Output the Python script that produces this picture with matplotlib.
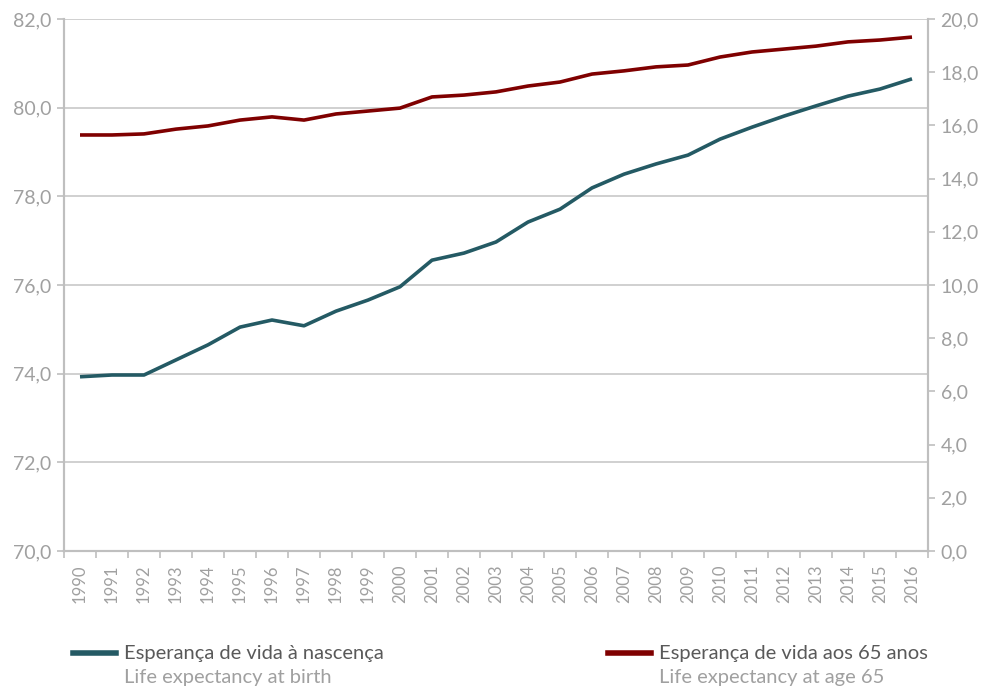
import matplotlib
matplotlib.use("Agg")
import matplotlib.pyplot as plt
from matplotlib.lines import Line2D

years = list(range(1990, 2017))
birth = [73.93, 73.97, 73.97, 74.31, 74.65, 75.05, 75.21, 75.08, 75.41, 75.66,
         75.96, 76.56, 76.72, 76.97, 77.42, 77.71, 78.19, 78.50, 78.73, 78.93,
         79.29, 79.56, 79.81, 80.04, 80.26, 80.42, 80.65]
age65 = [15.64, 15.64, 15.68, 15.86, 15.98, 16.20, 16.32, 16.20, 16.43, 16.54,
         16.65, 17.07, 17.14, 17.26, 17.48, 17.63, 17.93, 18.05, 18.20, 18.27,
         18.57, 18.76, 18.87, 18.98, 19.14, 19.21, 19.32]
left_ticks = [70, 72, 74, 76, 78, 80, 82]
right_ticks = [0, 2, 4, 6, 8, 10, 12, 14, 16, 18, 20]
label_birth = ("Esperança de vida à nascença", "Life expectancy at birth")
label_65 = ("Esperança de vida aos 65 anos", "Life expectancy at age 65")

plt.rcParams['font.family'] = ['Lato', 'DejaVu Sans']
GRAY = '#a0a0a0'
AX = '#bfbfbf'
BLUE = '#245a64'
RED = '#7f0000'

fig = plt.figure(figsize=(9.89, 6.88), dpi=100)
ax = fig.add_axes([64/989, 1-551/688, (928-64)/989, (551-19)/688])
ax2 = ax.twinx()

x = list(range(len(years)))
ax.plot(x, birth, color=BLUE, lw=2.6, solid_capstyle='butt', zorder=3)
ax2.plot(x, age65, color=RED, lw=2.6, solid_capstyle='butt', zorder=3)

ax.set_xlim(-0.5, len(years) - 0.5)
ax.set_ylim(70, 82)
ax2.set_ylim(0, 20)
ax.set_yticks(left_ticks)
ax.set_yticklabels([f"{v:.1f}".replace('.', ',') for v in left_ticks])
ax2.set_yticks(right_ticks)
ax2.set_yticklabels([f"{v:.1f}".replace('.', ',') for v in right_ticks])
ax.yaxis.grid(True, color='#c8c8c8', lw=1.2)
ax.set_axisbelow(True)

ax.set_xticks([i - 0.5 for i in range(len(years) + 1)])
ax.set_xticklabels([])
ax.set_xticks(x, minor=True)
ax.set_xticklabels([str(y) for y in years], minor=True, rotation=90)
ax.tick_params(axis='x', which='major', length=5, color=AX, width=1.2)
ax.tick_params(axis='x', which='minor', length=0, labelsize=12, labelcolor=GRAY, pad=10)
ax.tick_params(axis='y', length=5, color=AX, width=1.2, labelsize=14, labelcolor=GRAY, pad=4)
ax2.tick_params(axis='y', length=5, color=AX, width=1.2, labelsize=14, labelcolor=GRAY, pad=4)

for a in (ax, ax2):
    a.spines['top'].set_visible(False)
    for s in ('left', 'right', 'bottom'):
        a.spines[s].set_color(AX)
        a.spines[s].set_linewidth(1.5)

# legend
def leg(x0, color, labels):
    fig.add_artist(Line2D([x0/989, (x0+43)/989], [1-653/688, 1-653/688],
                          color=color, lw=4, transform=fig.transFigure))
    fig.text((x0+51)/989, 1-654/688, labels[0], color='#595959', fontsize=14.5,
             va='center', ha='left')
    fig.text((x0+51)/989, 1-678/688, labels[1], color=GRAY, fontsize=14.5,
             va='center', ha='left')

leg(73, BLUE, label_birth)
leg(608, RED, label_65)

fig.savefig('out.png', dpi=100)
